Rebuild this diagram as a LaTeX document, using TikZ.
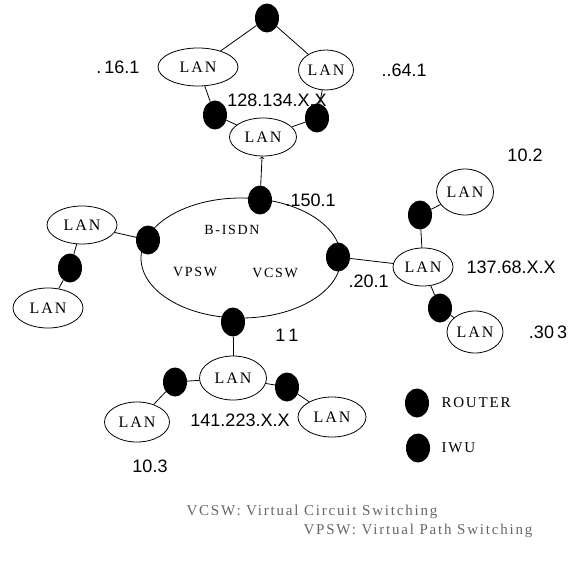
\documentclass[tikz,border=0pt]{standalone}
\usepackage{fontspec}
\setmainfont{Liberation Serif}
\newfontfamily\lanfont[LetterSpace=12]{Liberation Serif}
\newfontfamily\numfont{Liberation Sans}
\usepackage{tikz}
\usetikzlibrary{shapes.geometric}

\tikzset{
  lan/.style={ellipse, draw, line width=0.8pt, inner sep=0pt, minimum width=64pt, minimum height=40pt,
    font=\lanfont\fontsize{16}{16}\selectfont},
  router/.style={ellipse, fill=black, inner sep=0pt, minimum width=24pt, minimum height=29pt},
  addr/.style={font=\numfont\fontsize{18}{18}\selectfont},
  inlabel/.style={font=\lanfont\fontsize{14}{14}\selectfont},
  keytext/.style={anchor=west, font=\lanfont\fontsize{15}{15}\selectfont},
  note/.style={anchor=west, text=black!60, font=\lanfont\fontsize{15}{15}\selectfont},
  wire/.style={line width=0.8pt}
}

\begin{document}
\begin{tikzpicture}[x=1pt, y=-1pt]
      \useasboundingbox (0,0) rectangle (577,577);
      \node[ellipse, draw, line width=0.8pt, minimum width=200pt, minimum height=120pt] (bisdn) at (241,258) {};
      \node[inlabel] (bisdnlabel) at (232,230) {B-ISDN};
      \node[inlabel] (vpsw) at (195,272) {VPSW};
      \node[inlabel] (vcsw) at (275,273) {VCSW};

      \node[router] (rtop) at (267,18) {};
      \node[lan, minimum width=80pt, minimum height=38pt] (lantl) at (198,67) {LAN};
      \node[lan, minimum width=55pt] (lantr) at (326,70) {LAN};
      \node[router] (rtl) at (215,115) {};
      \node[router] (rtr) at (317,118) {};
      \node[lan, minimum width=67pt, minimum height=38pt] (lantm) at (263,137) {LAN};
      \node[router] (rn) at (260,200) {};

      \node[router] (rw) at (148,240) {};
      \node[lan, minimum width=70pt, minimum height=38pt] (lanl1) at (82,225) {LAN};
      \node[router] (rl) at (70,268) {};
      \node[lan, minimum width=70pt] (lanl2) at (48,308) {LAN};

      \node[router] (re) at (338,257) {};
      \node[lan, minimum width=60pt, minimum height=38pt] (lanr) at (423,267) {LAN};
      \node[router] (rr1) at (420,215) {};
      \node[lan, minimum width=57pt, minimum height=46pt] (lanr1) at (465,192) {LAN};
      \node[router] (rr2) at (440,308) {};
      \node[lan, minimum width=56pt, minimum height=42pt] (lanr2) at (475,332) {LAN};

      \node[router] (rs) at (233,322) {};
      \node[lan, minimum width=67pt, minimum height=44pt] (lanb) at (233,378) {LAN};
      \node[router] (rbl) at (175,382) {};
      \node[router] (rbr) at (287,387) {};
      \node[lan, minimum width=65pt] (lanbl) at (137,422) {LAN};
      \node[lan, minimum width=68pt] (lanbr) at (332,417) {LAN};

      \draw[wire] (rtop) -- (lantl);
      \draw[wire] (rtop) -- (lantr);
      \draw[wire] (lantl) -- (rtl) -- (lantm);
      \draw[wire] (lantr) -- (rtr) -- (lantm);
      \draw[wire, ->] (rn) -- (lantm);
      \draw[wire] (rw) -- (lanl1) -- (rl) -- (lanl2);
      \draw[wire] (re) -- (lanr);
      \draw[wire] (lanr) -- (rr1) -- (lanr1);
      \draw[wire] (lanr) -- (rr2) -- (lanr2);
      \draw[wire] (rs) -- (lanb);
      \draw[wire] (lanb) -- (rbl) -- (lanbl);
      \draw[wire] (lanb) -- (rbr) -- (lanbr);

      \node[addr, anchor=east] (a16) at (143,67) {.\,16.1};
      \node[addr, anchor=west] (a64) at (378,70) {..64.1};
      \node[addr] (a128) at (277,100) {128.134.X.X};
      \node[addr, anchor=west] (a150) at (282,200) {.150.1};
      \node[addr, anchor=west] (a20) at (345,281) {.20.1};
      \node[addr, anchor=west] (a137) at (463,267) {137.68.X.X};
      \node[addr] (a102) at (525,155) {10.2};
      \node[addr] (a303) at (548,332) {.30\,3};
      \node[addr] (a11) at (287,335) {1\,1};
      \node[addr] (a141) at (240,420) {141.223.X.X};
      \node[addr] (a103) at (150,466) {10.3};

      \node[router] (keyrouter) at (417,403) {};
      \node[keytext] (keyroutertext) at (438,403) {ROUTER};
      \node[router] (keyiwu) at (418,448) {};
      \node[keytext] (keyiwutext) at (438,448) {IWU};

      \node[note] (notevc) at (183,512) {VCSW: Virtual Circuit Switching};
      \node[note] (notevp) at (300,531) {VPSW: Virtual Path Switching};
    \end{tikzpicture}
\end{document}
